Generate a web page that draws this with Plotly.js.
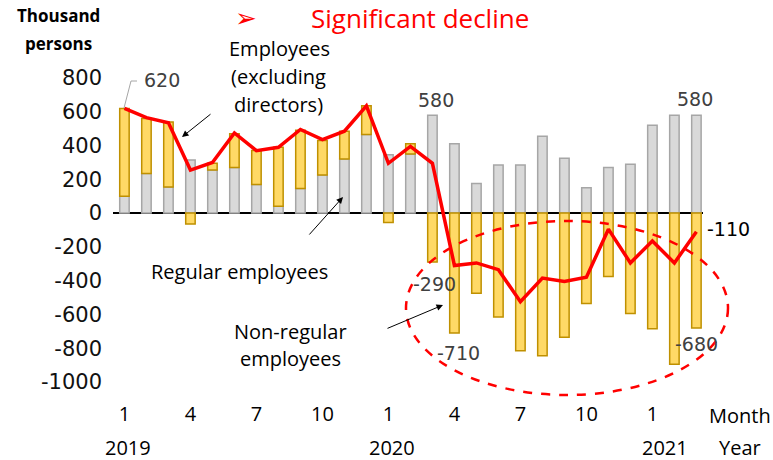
<!DOCTYPE html>
<html>
<head>
<meta charset="utf-8">
<script src="https://cdn.plot.ly/plotly-3.0.1.min.js"></script>
<style>html,body{margin:0;padding:0;background:#fff;}#chart{width:773px;height:460px;}</style>
</head>
<body>
<div id="chart"></div>
<script>
// Months: Jan 2019 .. Mar 2021 (index 0..26)
const months = ["2019-01","2019-02","2019-03","2019-04","2019-05","2019-06","2019-07","2019-08","2019-09","2019-10","2019-11","2019-12",
  "2020-01","2020-02","2020-03","2020-04","2020-05","2020-06","2020-07","2020-08","2020-09","2020-10","2020-11","2020-12",
  "2021-01","2021-02","2021-03"];
const regular = [100,235,155,315,255,270,170,40,145,225,320,465,345,350,580,410,175,285,285,455,325,150,270,290,520,580,580];
const nonRegular = [520,325,385,-65,40,200,200,350,345,205,165,170,-55,60,-290,-710,-475,-615,-815,-845,-735,-535,-375,-595,-685,-895,-680];
const employees = [620,565,535,255,300,475,370,390,495,435,485,635,295,395,295,-310,-295,-335,-525,-385,-405,-380,-95,-295,-165,-295,-110];
const monthTickIdx = [0,3,6,9,12,15,18,21,24];
const monthTickText = ["1","4","7","10","1","4","7","10","1"];
const yTicks = [-1000,-800,-600,-400,-200,0,200,400,600,800];
const yTickText = yTicks.map(v => String(v));

const idx = months.map((m,i)=>i);

// pixel helpers for decorations (plot area: left 113, top 78, width 590, height 304)
const L=113, T=78, W=590, H=304;
const px = x => (x-L)/W;
const py = y => (T+H-y)/H;

const labelFont = {family:"DejaVu Sans", size:19, color:"#404040"};
const textFont = {family:"Open Sans", size:20, color:"#000"};

const traces = [
  {type:"bar", x:idx, y:regular, name:"Regular employees",
   marker:{color:"#d9d9d9", line:{color:"#a6a6a6", width:1.5}}},
  {type:"bar", x:idx, y:nonRegular, name:"Non-regular employees",
   marker:{color:"#ffd966", line:{color:"#bf9000", width:1.5}}},
  {type:"scatter", mode:"lines", x:idx, y:employees, name:"Employees",
   line:{color:"#ff0000", width:3.5}}
];

function txt(text, x, y, font, extra){
  return Object.assign({text:text, xref:"paper", yref:"paper", x:px(x), y:py(y),
    xanchor:"center", yanchor:"middle", showarrow:false, font:font}, extra||{});
}
function arrow(tx, ty, hx, hy){
  return {text:"", xref:"paper", yref:"paper", x:px(hx), y:py(hy), ax:tx-hx, ay:ty-hy,
    showarrow:true, arrowhead:2, arrowsize:1.3, arrowwidth:1, arrowcolor:"#000"};
}

const annotations = [
  txt("<b>Thousand</b>", 58, 15, {family:"Open Sans", size:17, color:"#000"}),
  txt("<b>persons</b>", 58, 44, {family:"Open Sans", size:17, color:"#000"}),
  txt("➢", 246, 18, {family:"DejaVu Sans", size:26, color:"#ff0000"}),
  txt("Significant decline", 420, 18, {family:"Open Sans", size:26, color:"#ff0000"}),
  txt("Employees", 279, 48, textFont),
  txt("(excluding", 278, 76, textFont),
  txt("directors)", 278, 104, textFont),
  txt("620", 162, 80, labelFont),
  txt("580", 436, 100, labelFont),
  txt("580", 695, 99, labelFont),
  txt("-110", 728, 229, {family:"DejaVu Sans", size:19, color:"#000"}),
  txt("-290", 434, 284, labelFont),
  txt("-710", 458, 353, labelFont),
  txt("-680", 696, 344, labelFont),
  txt("Regular employees", 239, 271, textFont),
  txt("Non-regular", 290, 331, textFont),
  txt("employees", 290, 358, textFont),
  txt("2019", 128, 447, textFont),
  txt("2020", 392, 447, textFont),
  txt("2021", 665, 447, textFont),
  txt("Month", 740, 415, textFont),
  txt("Year", 740, 447, textFont),
  arrow(212, 113, 182, 137),
  arrow(308, 236, 343, 197),
  arrow(386, 329, 443, 305)
];

const shapes = [
  {type:"circle", xref:"paper", yref:"paper", x0:px(406), x1:px(728), y0:py(395), y1:py(221),
   line:{color:"#ff0000", width:2.5, dash:"dash"}},
  {type:"path", xref:"paper", yref:"paper",
   path:`M ${px(137)} ${py(81)} L ${px(131)} ${py(81)} L ${px(124)} ${py(108)}`,
   line:{color:"#a6a6a6", width:1}}
];

const layout = {
  width:773, height:460,
  margin:{l:L, r:773-L-W, t:T, b:460-T-H, pad:0},
  paper_bgcolor:"#fff", plot_bgcolor:"#fff",
  showlegend:false,
  barmode:"relative", bargap:0.57,
  xaxis:{range:[-0.52,26.3], tickvals:monthTickIdx, ticktext:monthTickText,
    showgrid:false, zeroline:false, showline:false, ticks:"",
    ticklabelstandoff:18, tickfont:{family:"Open Sans", size:20, color:"#000"}},
  yaxis:{range:[-1000,800], tickvals:yTicks, ticktext:yTickText, showgrid:false, zeroline:true,
    zerolinecolor:"#000", zerolinewidth:1.5, showline:false, ticks:"",
    ticklabelstandoff:10, tickfont:{family:"DejaVu Sans", size:21, color:"#111"}},
  annotations:annotations, shapes:shapes
};

Plotly.newPlot("chart", traces, layout, {staticPlot:true, displayModeBar:false});
</script>
</body>
</html>
